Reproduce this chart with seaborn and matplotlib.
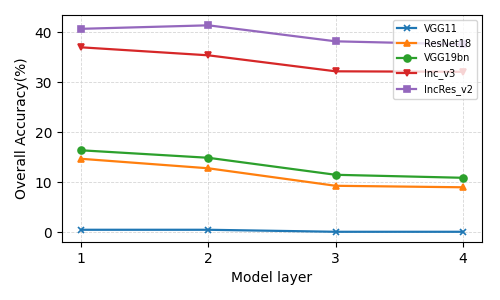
import matplotlib
matplotlib.use("Agg")
import matplotlib.pyplot as plt
import seaborn as sns
import pandas as pd

layers = [1, 2, 3, 4]
vgg11 = [0.5, 0.5, 0.1, 0.1]
resnet18 = [14.7, 12.8, 9.3, 9.0]
vgg19bn = [16.4, 14.9, 11.5, 10.9]
inc_v3 = [37.0, 35.4, 32.2, 32.1]
incres_v2 = [40.7, 41.4, 38.2, 37.6]

series = {"VGG11": vgg11, "ResNet18": resnet18, "VGG19bn": vgg19bn,
          "Inc_v3": inc_v3, "IncRes_v2": incres_v2}
markers = {"VGG11": "x", "ResNet18": "^", "VGG19bn": "o", "Inc_v3": "v", "IncRes_v2": "s"}
colors = {"VGG11": "#1f77b4", "ResNet18": "#ff7f0e", "VGG19bn": "#2ca02c",
          "Inc_v3": "#d62728", "IncRes_v2": "#9467bd"}

rows = []
for name, vals in series.items():
    for l, v in zip(layers, vals):
        rows.append({"layer": l, "acc": v, "model": name})
df = pd.DataFrame(rows)

fig, ax = plt.subplots(figsize=(5, 3), dpi=100)
for name in series:
    sub = df[df["model"] == name]
    sns.lineplot(data=sub, x="layer", y="acc", ax=ax, label=name, color=colors[name],
                 marker=markers[name], markersize=5, markeredgecolor=colors[name],
                 markeredgewidth=1.2, linewidth=1.6)
ax.set_xticks(layers)
ax.set_xlabel("Model layer", fontsize=10)
ax.set_ylabel("Overall Accuracy(%)", fontsize=10)
ax.grid(True, linestyle="--", color="#cccccc", linewidth=0.6, alpha=0.8)
ax.legend(loc="upper right", fontsize=7)
plt.subplots_adjust(left=0.124, right=0.964, top=0.95, bottom=0.193)
fig.savefig("out.png", dpi=100)
